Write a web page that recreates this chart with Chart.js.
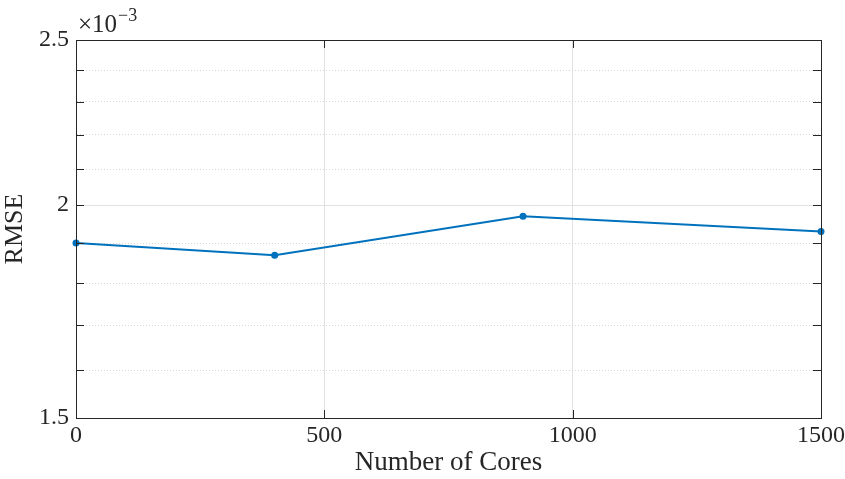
<!DOCTYPE html>
<html>
<head>
<meta charset="utf-8">
<script src="https://cdn.jsdelivr.net/npm/chart.js@4/dist/chart.umd.min.js"></script>
<style>
html,body{margin:0;padding:0;background:#fff;}
#wrap{width:845px;height:479px;position:relative;}
</style>
</head>
<body>
<div id="wrap"><canvas id="c" width="845" height="479"></canvas></div>
<script>
// Data
const cores = [0, 400, 900, 1500];
const rmse = [1.900e-3, 1.869e-3, 1.970e-3, 1.930e-3];
const xTicks = [0, 500, 1000, 1500];
const yTicks = [1.5e-3, 1.6e-3, 1.7e-3, 1.8e-3, 1.9e-3, 2.0e-3, 2.1e-3, 2.2e-3, 2.3e-3, 2.4e-3, 2.5e-3];
const yMajorLabels = {"1.5": "1.5", "2": "2", "2.5": "2.5"};
const xTitle = "Number of Cores";
const yTitle = "RMSE";
const exponentBase = "\u00d710";
const exponentPow = "\u22123";

const FONT = "'Liberation Serif', 'Times New Roman', serif";
const AXIS = '#262626';

function yKey(v){ return String(Math.round(v*1e4)/10); }
function isMajorY(v){ return yMajorLabels.hasOwnProperty(yKey(v)); }

const boxPlugin = {
  id: 'box',
  afterDraw(chart){
    const {ctx, chartArea:a, scales} = chart;
    ctx.save();
    ctx.strokeStyle = AXIS;
    ctx.lineWidth = 1;
    const L = 8;
    ctx.beginPath();
    yTicks.forEach(v => {
      const y = Math.round(scales.y.getPixelForValue(v)) + 0.5;
      ctx.moveTo(a.left, y); ctx.lineTo(a.left + L, y);
      ctx.moveTo(a.right, y); ctx.lineTo(a.right - L, y);
    });
    xTicks.forEach(v => {
      const x = Math.round(scales.x.getPixelForValue(v)) + 0.5;
      ctx.moveTo(x, a.bottom); ctx.lineTo(x, a.bottom - L);
      ctx.moveTo(x, a.top); ctx.lineTo(x, a.top + L);
    });
    ctx.stroke();
    ctx.strokeRect(Math.round(a.left)+0.5, Math.round(a.top)+0.5, Math.round(a.right-a.left), Math.round(a.bottom-a.top));
    // exponent label
    ctx.fillStyle = AXIS;
    ctx.textBaseline = 'alphabetic';
    ctx.textAlign = 'left';
    ctx.font = "25px " + FONT;
    const bx = a.left + 2, by = a.top - 8;
    ctx.fillText(exponentBase, bx, by);
    const w = ctx.measureText(exponentBase).width;
    ctx.font = "18px " + FONT;
    ctx.fillText(exponentPow, bx + w + 1, by - 11);
    ctx.restore();
  }
};

new Chart(document.getElementById('c'), {
  type: 'line',
  data: {
    datasets: [{
      data: cores.map((c, i) => ({x: c, y: rmse[i]})),
      borderColor: '#0072BD',
      backgroundColor: '#0072BD',
      borderWidth: 2,
      pointRadius: 3.5,
      pointHoverRadius: 3.5,
      pointBorderWidth: 0,
      tension: 0,
      clip: false
    }]
  },
  options: {
    responsive: false,
    animation: false,
    events: [],
    layout: {padding: {top: 40, right: 24, left: 0, bottom: 0}},
    plugins: {legend: {display: false}, tooltip: {enabled: false}},
    scales: {
      x: {
        type: 'linear',
        min: 0, max: 1500,
        afterBuildTicks(scale){ scale.ticks = xTicks.map(v => ({value: v})); },
        afterFit(scale){ scale.height = 61; scale.paddingRight = 0; scale.paddingLeft = 0; },
        ticks: {
          color: AXIS,
          font: {family: FONT, size: 24},
          padding: 3,
          maxRotation: 0,
          autoSkip: false,
          callback: v => String(v)
        },
        grid: {
          color: ctx => (ctx.tick && (ctx.tick.value === 0 || ctx.tick.value === 1500)) ? 'rgba(0,0,0,0)' : '#e1e1e1',
          lineWidth: 1,
          drawTicks: false
        },
        border: {color: AXIS, width: 1},
        title: {
          display: true,
          text: xTitle,
          color: AXIS,
          font: {family: FONT, size: 27},
          padding: {top: 0, bottom: 0}
        }
      },
      y: {
        type: 'logarithmic',
        min: 1.5e-3, max: 2.5e-3,
        afterBuildTicks(scale){ scale.ticks = yTicks.map(v => ({value: v, major: isMajorY(v)})); },
        afterFit(scale){ scale.width = 76; scale.paddingTop = 0; scale.paddingBottom = 0; },
        ticks: {
          color: AXIS,
          font: {family: FONT, size: 24},
          padding: 7,
          autoSkip: false,
          major: {enabled: false},
          callback: (v) => isMajorY(v) ? yMajorLabels[yKey(v)] : ''
        },
        grid: {
          color: ctx => {
            if (!ctx.tick) return 'rgba(0,0,0,0)';
            const v = ctx.tick.value;
            if (Math.abs(v - 1.5e-3) < 1e-9 || Math.abs(v - 2.5e-3) < 1e-9) return 'rgba(0,0,0,0)';
            return isMajorY(v) ? '#e1e1e1' : '#d6d6d6';
          },
          lineWidth: 1,
          drawTicks: false
        },
        border: {
          color: AXIS, width: 1,
          dash: ctx => (ctx.tick && !isMajorY(ctx.tick.value)) ? [1, 2] : []
        },
        title: {
          display: true,
          text: yTitle,
          color: AXIS,
          font: {family: FONT, size: 26},
          padding: {top: 0, bottom: 0}
        }
      }
    }
  },
  plugins: [boxPlugin]
});
</script>
</body>
</html>
